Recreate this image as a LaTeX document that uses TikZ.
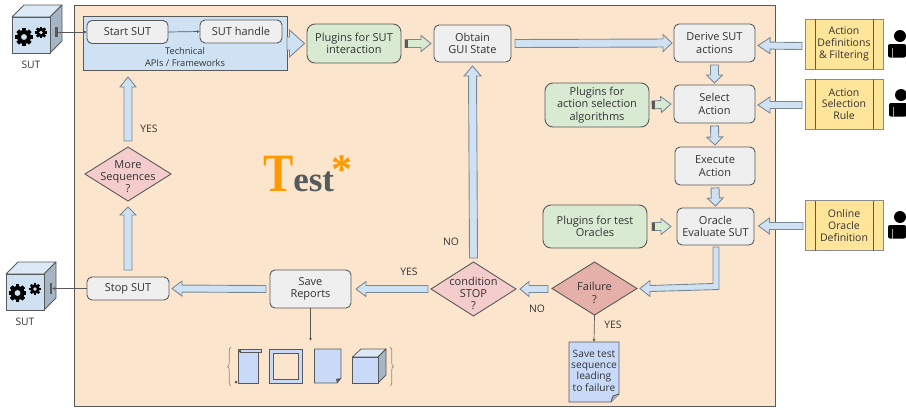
\documentclass[tikz,border=0pt]{standalone}
\usepackage{fontspec}
\setmainfont{Open Sans}
\newfontfamily\logofont{Liberation Serif}
\usetikzlibrary{shapes.geometric,calc,decorations.pathreplacing,arrows.meta}
\definecolor{bgc}{HTML}{FCE5CD}
\definecolor{arrowc}{HTML}{CFE2F3}
\definecolor{greenc}{HTML}{D9EAD3}
\definecolor{yellowc}{HTML}{FFE599}
\definecolor{grayc}{HTML}{EFEFEF}
\definecolor{docc}{HTML}{C9DAF8}
\definecolor{strokec}{HTML}{595959}
\definecolor{arrowstroke}{HTML}{7A8894}
\definecolor{textc}{HTML}{333333}
\definecolor{sidec}{HTML}{A6B5C6}
\definecolor{topc}{HTML}{DCE9F6}
\definecolor{logoorange}{HTML}{FF9900}
\definecolor{logogray}{HTML}{555B5C}
\tikzset{
  x=1pt,y=-1pt,
  every node/.style={font=\fontsize{11}{12.3}\selectfont,text=textc,align=center,outer sep=0pt,inner sep=0pt},
  box/.style={draw=strokec,line width=.9pt,rounded corners=5pt,fill=grayc},
  greenbox/.style={box,fill=greenc,rounded corners=8pt},
  yellowbox/.style={draw=strokec!70,line width=1pt,fill=yellowc},
  dia/.style={diamond,draw=strokec,line width=.9pt,aspect=1.6},
  lab/.style={font=\fontsize{10.3}{12}\selectfont},
  thinlink/.style={draw=strokec,line width=.7pt,-{Latex[length=3pt,width=3pt]}},
  blockstyle/.style={draw=arrowstroke,line width=.9pt,fill=arrowc,line join=miter},
  greenblock/.style={draw=arrowstroke,line width=.9pt,fill=greenc},
  docshape/.style={draw=strokec,line width=.9pt,fill=docc,line join=round},
}
% block arrow: style, start, end, shaft half width, head half width, head length
\newcommand{\blk}[6][blockstyle]{%
  \coordinate (bs) at #2; \coordinate (be) at #3;
  \coordinate (bn) at ($(be)!#6!(bs)$);
  \draw[#1] ($(bs)!#4!90:(be)$) -- ($(bn)!#4!90:(be)$) -- ($(bn)!#5!90:(be)$) -- (be)
    -- ($(bn)!#5!-90:(be)$) -- ($(bn)!#4!-90:(be)$) -- ($(bs)!#4!-90:(be)$) -- cycle;
}
\newcommand{\gearshape}[3]{% x, y, radius
  \begin{scope}[shift={(#1,#2)}]
    \foreach \a in {0,45,...,315}{
      \fill[black,rotate=\a] (-.26*#3,-1.24*#3) rectangle (.26*#3,1.24*#3);
    }
    \fill[black] (0,0) circle[radius=#3];
    \fill[arrowc] (0,0) circle[radius=.42*#3];
  \end{scope}
}
\newcommand{\cube}[4]{% x1,y1,x2,y2 of front; offset 12
  \draw[draw=strokec,line width=.8pt,fill=topc,line join=round] (#1,#2) -- ++(12,-12) -- (#3+12,#2-12) -- (#3,#2) -- cycle;
  \draw[draw=strokec,line width=.8pt,fill=sidec,line join=round] (#3,#2) -- (#3+12,#2-12) -- (#3+12,#4-12) -- (#3,#4) -- cycle;
  \draw[draw=strokec,line width=.8pt,fill=arrowc] (#1,#2) rectangle (#3,#4);
}
\newcommand{\person}[2]{% head centre
  \fill[black] (#1,#2) circle[radius=6];
  \fill[black,rounded corners=2pt] (#1-12,#2+21.5) -- (#1-12,#2+8) -- (#1+6,#2+8) -- (#1+6,#2+21.5) -- cycle;
  \draw[gray!70,line width=.5pt] (#1-8,#2+12) -- (#1-8,#2+22);
}
\begin{document}
\begin{tikzpicture}
\useasboundingbox (0,0) rectangle (906,410);
\fill[white] (0,0) rectangle (906,410);
\draw[fill=bgc,draw=strokec,line width=.9pt] (74,5) rectangle (775,406);

% Logo
\node[anchor=base west,font=\logofont\bfseries] (logo) at (263,191) {\fontsize{54}{54}\selectfont\textcolor{logoorange}{\scalebox{.84}[1]{T}}\fontsize{35}{35}\selectfont\textcolor{logogray}{est}\kern-3pt\raisebox{8pt}{\fontsize{42}{42}\selectfont\textcolor{logoorange}{*}}};

% SUT 1
\cube{12}{17}{50}{53}
\gearshape{24}{37}{7}
\gearshape{41}{32.5}{4.7}
\fill[strokec] (55,27) rectangle (57.5,37);
\coordinate (sutport) at (57,32);
\node[lab] (sutlabel) at (31,65) {SUT};

% Technical box
\node[draw=strokec,line width=.9pt,fill=arrowc,minimum width=204,minimum height=54] (tech) at (185,43) {};
\node[font=\fontsize{9.3}{11.3}\selectfont] (techlabel) at (185,57) {Technical\\APIs / Frameworks};
\node[box,minimum width=81,minimum height=23] (start) at (127.5,32) {Start SUT};
\node[box,minimum width=82,minimum height=23] (handle) at (241,31.5) {SUT handle};
\draw[thinlink] (sutport) -- (start.west);
\draw[thinlink] (start.east) -- (handle.west);

% Main row
\node[greenbox,minimum width=94,minimum height=39] (plugsut) at (354,43.5) {Plugins for SUT\\interaction};
\node[box,minimum width=77,minimum height=37] (gui) at (472.5,43.5) {Obtain\\GUI State};
\node[box,minimum width=81,minimum height=38] (derive) at (714.5,43) {Derive SUT\\actions};
\node[box,minimum width=81,minimum height=38] (select) at (714.5,104) {Select\\Action};
\node[box,minimum width=80,minimum height=38] (exec) at (715,166) {Execute\\Action};
\node[box,minimum width=77,minimum height=37] (oracle) at (715.5,226.5) {Oracle\\Evaluate SUT};
\node[greenbox,minimum width=104,minimum height=44] (plugsel) at (597,105) {Plugins for\\action selection\\algorithms};
\node[greenbox,minimum width=104,minimum height=43] (plugora) at (595,226.5) {Plugins for test\\Oracles};

% Yellow boxes
\foreach \n/\cy/\t in {ydef/44/{Action\\Definitions\\\& Filtering},ysel/104/{Action\\Selection\\Rule},yora/225.5/{Online\\Oracle\\Definition}}{
  \node[yellowbox,minimum width=78,minimum height=50,font=\fontsize{10.5}{11.6}\selectfont] (\n) at (844,\cy) {\t};
  \draw[strokec,line width=.8pt] ($(\n.north west)+(10.5,0)$) -- ($(\n.south west)+(10.5,0)$);
  \draw[strokec,line width=.8pt] ($(\n.north east)+(-10,0)$) -- ($(\n.south east)+(-10,0)$);
}
\person{900}{36}
\person{901}{95}
\person{900}{217}

% Diamonds
\node[dia,fill={rgb,255:red,230;green,176;blue,170},minimum width=85,minimum height=53] (fail) at (594.5,288.5) {};
\node (failtext) at (594.5,293) {Failure\\?};
\node[dia,fill={rgb,255:red,244;green,204;blue,204},minimum width=85,minimum height=54] (cond) at (473.5,289) {};
\node (condtext) at (473.5,293.5) {condition\\STOP\\?};
\node[dia,fill={rgb,255:red,244;green,204;blue,204},minimum width=86,minimum height=54] (more) at (128,174) {};
\node (moretext) at (128,176.5) {More\\Sequences\\?};

% Lower boxes
\node[box,minimum width=81,minimum height=38] (save) at (310.5,289) {Save\\Reports};
\node[box,minimum width=82,minimum height=23] (stop) at (128,288.5) {Stop SUT};

% SUT 2
\cube{6}{274}{44}{310}
\gearshape{17.5}{293}{7}
\gearshape{35}{289}{4.7}
\fill[strokec] (49.5,283) rectangle (52,294);
\coordinate (sutportb) at (52,288.5);
\node[lab] (sutlabelb) at (25,322) {SUT};
\draw[thinlink] (stop.west) -- (sutportb);

% Save test sequence document
\node[minimum width=50,minimum height=60] (savedoc) at (594,372) {};
\draw[docshape] (savedoc.north west) -- (savedoc.north east) -- ($(savedoc.south east)+(0,-8)$) -- ($(savedoc.south east)+(-8,0)$) -- (savedoc.south west) -- cycle;
\draw[docshape,fill=docc!60!gray] ($(savedoc.south east)+(0,-8)$) -- ($(savedoc.south east)+(-6,-6)$) -- ($(savedoc.south east)+(-8,0)$);
\node[font=\fontsize{10.2}{11.4}\selectfont] (savetext) at (594,370.5) {Save test\\sequence\\leading\\to failure};

% Block arrows
\blk{($(tech.east)+(0,.5)$)}{($(plugsut.west)+(-2.5,0)$)}{6.5pt}{13.5pt}{15pt}
\blk{($(gui.east)+(4,0)$)}{($(derive.west)+(-2,0)$)}{4pt}{8.5pt}{9pt}
\blk{($(ydef.west)+(-3,2)$)}{($(derive.east)+(3,2.5)$)}{3.5pt}{8pt}{12pt}
\blk{($(ysel.west)+(-3,1)$)}{($(select.east)+(3,1)$)}{3.5pt}{8pt}{12pt}
\blk{($(yora.west)+(-2,.5)$)}{($(oracle.east)+(4.5,-.5)$)}{3.5pt}{8pt}{11pt}
\blk{($(derive.south)+(0,3)$)}{($(select.north)+(0,-2)$)}{4pt}{8pt}{8pt}
\blk{($(select.south)+(0,3)$)}{($(exec.north)+(0,-2)$)}{4pt}{8pt}{8pt}
\blk{($(exec.south)+(0,3)$)}{($(oracle.north)+(0,-2)$)}{4pt}{8pt}{8pt}
\blk{($(fail.west)+(-4,.5)$)}{($(cond.east)+(4,0)$)}{3.5pt}{7.5pt}{9pt}
\blk{($(cond.west)+(-3,0)$)}{($(save.east)+(5,0)$)}{3.5pt}{7.5pt}{10pt}
\blk{($(save.west)+(-4,0)$)}{($(stop.east)+(3,0)$)}{3.5pt}{7.5pt}{10pt}
\blk{($(stop.north)+(0,-7)$)}{($(more.south)+(0,6)$)}{4pt}{8pt}{8pt}
\blk{($(more.north)+(0,-6)$)}{($(tech.south-|more)+(0,7)$)}{4pt}{8pt}{10pt}
\blk{($(cond.north)+(0,-4)$)}{($(gui.south)+(0,4)$)}{4pt}{8.5pt}{10pt}
% Small plugin arrows
\blk[greenblock]{($(plugsut.east)+(4,0)$)}{($(gui.west)+(-3,0)$)}{4pt}{8pt}{10pt}
\blk[greenblock]{($(plugsel.east)+(3,0)$)}{($(select.west)+(-3,0)$)}{4pt}{8pt}{10pt}
\blk[greenblock]{($(plugora.east)+(5,0)$)}{($(oracle.west)+(-6,0)$)}{4pt}{8pt}{10pt}
\fill[strokec] ($(plugsut.east)+(4,-4)$) rectangle ++(3,8);
\fill[strokec] ($(plugsel.east)+(3,-4)$) rectangle ++(3,8);
\fill[strokec] ($(plugora.east)+(5,-4)$) rectangle ++(3,8);
% Elbow
\draw[blockstyle] ($(oracle.south)+(-2.5,2)$) -- ($(oracle.south)+(-2.5,38.5)$) -- ($(fail.east)+(13,-3)$) -- ($(fail.east)+(13,-8)$) -- ($(fail.east)+(3,0)$) -- ($(fail.east)+(13,8)$) -- ($(fail.east)+(13,3)$) -- ($(oracle.south)+(3.5,44.5)$) -- ($(oracle.south)+(3.5,2)$) -- cycle;

% Thin links
\draw[thinlink] (fail.south) -- (savedoc.north);
\coordinate (docstop) at (310.5,341);
\draw[thinlink] (save.south) -- (docstop);

% Labels
\node[lab] (l1) at (149,129) {YES};
\node[lab] (l2) at (451,242) {NO};
\node[lab] (l3) at (409,272) {YES};
\node[lab] (l4) at (537,309) {NO};
\node[lab] (l5) at (613,325) {YES};

% Artifacts
\draw[draw=strokec!70,line width=.7pt,decorate,decoration={brace,amplitude=3.5pt}] (231,386) -- (231,347);
\draw[draw=strokec!70,line width=.7pt,decorate,decoration={brace,amplitude=3.5pt}] (390,347) -- (390,386);
% scroll
\draw[docshape] (238,383) -- (238,349) -- (240,349) -- (261,349) -- (261,352) -- (258,352) -- (258,383) -- cycle;
\draw[docshape] (240,349) rectangle (261,352);
\fill[strokec] (240,351) circle[radius=1.5];
\fill[strokec] (236,382) circle[radius=1.5];
% frame
\draw[docshape,line join=miter] (269.5,349) rectangle (302,383);
\draw[draw=strokec,line width=.9pt,fill=bgc] (273.5,353) rectangle (298.5,379.5);
% doc
\draw[docshape] (314.5,349) -- (341,349) -- (341,378) -- (337,383) -- (314.5,383) -- cycle;
\fill[strokec] (341,378) -- (337,383) -- (336,379) -- cycle;
% cube
\draw[draw=strokec,line width=.8pt,fill=topc,line join=round] (352.5,357) -- (361,349) -- (386,349) -- (378,357) -- cycle;
\draw[draw=strokec,line width=.8pt,fill=sidec,line join=round] (378,357) -- (386,349) -- (386,375) -- (378,383) -- cycle;
\draw[draw=strokec,line width=.8pt,fill=docc] (352.5,357) rectangle (378,383);
\end{tikzpicture}
\end{document}
